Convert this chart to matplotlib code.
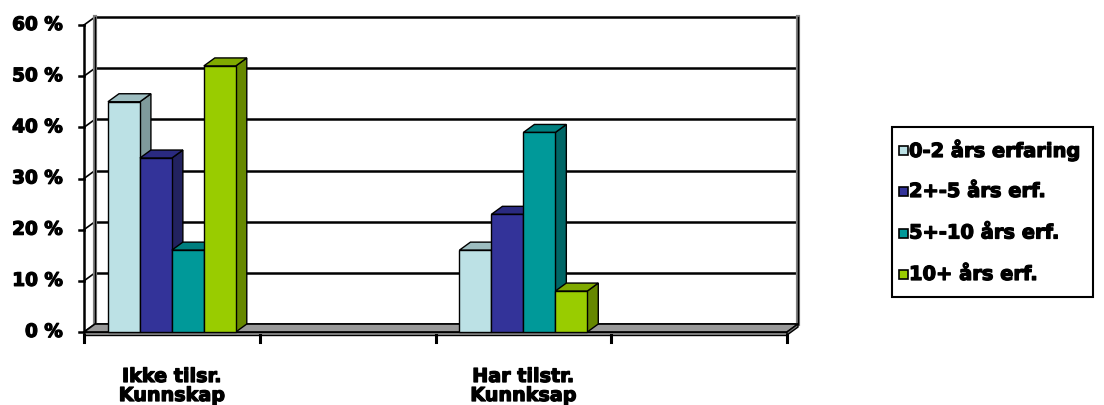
import matplotlib
matplotlib.use("Agg")
import matplotlib.pyplot as plt
from matplotlib.patches import Polygon, Rectangle
from matplotlib.lines import Line2D
import matplotlib.patheffects as pe

categories = ["Ikke tilsr.\nKunnskap", "", "Har tilstr.\nKunnksap", ""]
series_names = ["0-2 års erfaring", "2+-5 års erf.", "5+-10 års erf.", "10+ års erf."]
values = [
    [45, 16],   # 0-2 års erfaring
    [34, 23],   # 2+-5 års erf.
    [16, 39],   # 5+-10 års erf.
    [52, 8],    # 10+ års erf.
]
value_cats = [0, 2]
yticks = [0, 10, 20, 30, 40, 50, 60]
ytick_labels = [f"{v} %" for v in yticks]

front_cols = ["#BCE1E5", "#333399", "#009999", "#99CC00"]
top_cols = ["#9DBDC0", "#2A2A80", "#007F7F", "#80AA00"]
side_cols = ["#7F9A9C", "#22225F", "#006666", "#668800"]

W, H = 1104, 405
fig = plt.figure(figsize=(W / 100, H / 100), dpi=100)
L, R, B, T = 84, 787, 332, 25
ax = fig.add_axes([L / W, (H - B) / H, (R - L) / W, (B - T) / H])
ncat = len(categories)
ax.set_xlim(0, ncat)
ax.set_ylim(0, 60)
ax.axis("off")

pxx = (R - L) / ncat
pxy = (B - T) / 60.0
dx = 11 / pxx
dy = 8 / pxy

heavy = [pe.withStroke(linewidth=0.9, foreground="black")]
base = dict(family="DejaVu Sans", weight="bold", color="black", path_effects=heavy)

# back wall gridlines
for v in yticks:
    ax.add_line(Line2D([dx, ncat + dx], [v + dy, v + dy], color="black", lw=1.8, clip_on=False, zorder=1))
    ax.add_line(Line2D([0, dx], [v, v + dy], color="black", lw=1.2, clip_on=False, zorder=1))
for xe in (dx, ncat + dx):
    ax.add_line(Line2D([xe, xe], [dy, 60 + dy], color="#808080", lw=3.0, clip_on=False, zorder=1))
    ax.add_line(Line2D([xe, xe], [dy, 60 + dy], color="black", lw=1.0, clip_on=False, zorder=1))
ax.add_line(Line2D([0, 0], [0, 60], color="black", lw=1.8, clip_on=False, zorder=1))

# floor
ax.add_patch(Polygon([(0, 0), (ncat, 0), (ncat + dx, dy), (dx, dy)], closed=True,
                     facecolor="#999999", edgecolor="black", lw=1.2, clip_on=False, zorder=2))
slab = 0.6
ax.add_patch(Polygon([(0, -slab), (ncat, -slab), (ncat, 0), (0, 0)], closed=True,
                     facecolor="#999999", edgecolor="black", lw=1.0, clip_on=False, zorder=2))
ax.add_patch(Polygon([(ncat, -slab), (ncat + dx, dy - slab), (ncat + dx, dy), (ncat, 0)], closed=True,
                     facecolor="#777777", edgecolor="black", lw=1.0, clip_on=False, zorder=2))

for i in range(ncat + 1):
    ax.add_line(Line2D([i, i], [-slab, -slab - 1.3], color="black", lw=2.2, clip_on=False, zorder=2))
for v, lab in zip(yticks, ytick_labels):
    ax.add_line(Line2D([-5 / pxx, 0], [v, v], color="black", lw=1.8, clip_on=False, zorder=2))
    ax.text(-21 / pxx, v, lab, ha="right", va="center", size=13.3, **base)

# bars
nser = len(series_names)
w = 1 / (nser + 1.5)
start = 0.75 * w
z = 3
for ci, cat in enumerate(value_cats):
    for s in range(nser):
        v = values[s][ci]
        x0 = cat + start + s * w
        x1 = x0 + w
        ax.add_patch(Polygon([(x1, 0), (x1 + dx, dy), (x1 + dx, v + dy), (x1, v)], closed=True,
                             facecolor=side_cols[s], edgecolor="black", lw=1.0, clip_on=False, zorder=z))
        ax.add_patch(Polygon([(x0, v), (x1, v), (x1 + dx, v + dy), (x0 + dx, v + dy)], closed=True,
                             facecolor=top_cols[s], edgecolor="black", lw=1.0, clip_on=False, zorder=z))
        ax.add_patch(Rectangle((x0, 0), w, v, facecolor=front_cols[s], edgecolor="black", lw=1.0,
                               clip_on=False, zorder=z))
        z += 1

for i, lab in enumerate(categories):
    if lab:
        ax.text(i + 0.5, -35 / pxy, lab, ha="center", va="top", linespacing=1.0, size=13.8, **base)

# legend (manual, figure pixel coords)
def fx(px):
    return px / W

def fy(py):
    return (H - py) / H

lx0, ly0, lx1, ly1 = 892, 127, 1093, 297
fig.patches.append(Rectangle((fx(lx0), fy(ly1)), fx(lx1) - fx(lx0), fy(ly0) - fy(ly1),
                             transform=fig.transFigure, facecolor="white", edgecolor="black",
                             lw=1.5, zorder=5))
entry_y = [150, 191.5, 233, 274.5]
for name, col, ey in zip(series_names, front_cols, entry_y):
    fig.patches.append(Rectangle((fx(898.5), fy(ey + 4.5)), fx(9), 9 / H,
                                 transform=fig.transFigure, facecolor=col, edgecolor="black",
                                 lw=1.2, zorder=6))
    fig.text(fx(909), fy(ey), name, ha="left", va="center", zorder=7, size=14.0, **base)

fig.savefig("out.png", dpi=100)
